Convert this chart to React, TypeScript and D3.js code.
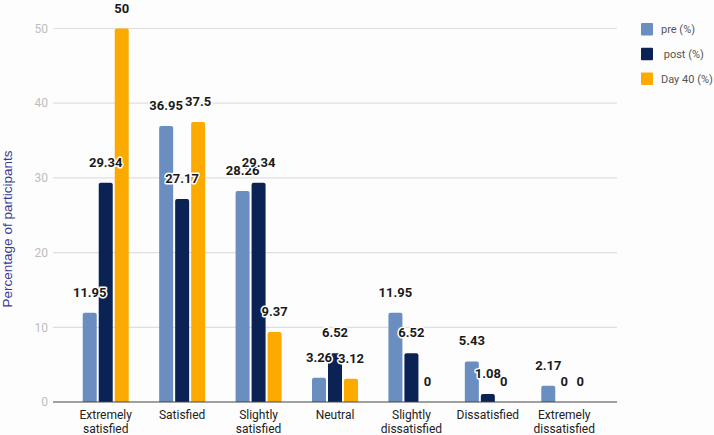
import React from "react";
import * as d3 from "d3";

const categories = [
  ["Extremely", "satisfied"],
  ["Satisfied"],
  ["Slightly", "satisfied"],
  ["Neutral"],
  ["Slightly", "dissatisfied"],
  ["Dissatisfied"],
  ["Extremely", "dissatisfied"],
];
const seriesNames = ["pre (%)", " post (%)", "Day 40 (%)"];
const preValues = [11.95, 36.95, 28.26, 3.26, 11.95, 5.43, 2.17];
const postValues = [29.34, 27.17, 29.34, 6.52, 6.52, 1.08, 0];
const day40Values = [50, 37.5, 9.37, 3.12, 0, 0, 0];
const yTicks = [0, 10, 20, 30, 40, 50];
const colors = ["#6a8ec0", "#0b2254", "#fdaa00"];

const W = 714;
const H = 435;

function topRoundedRect(x: number, y: number, w: number, h: number, r: number) {
  if (h <= 0) return "";
  const rr = Math.min(r, h, w / 2);
  return `M${x},${y + h}V${y + rr}Q${x},${y} ${x + rr},${y}H${x + w - rr}Q${x + w},${y} ${x + w},${y + rr}V${y + h}Z`;
}

export default function App() {
  const series = [preValues, postValues, day40Values];
  const catKeys = categories.map((c) => c.join(" "));
  const x = d3.scaleBand<string>().domain(catKeys).range([53, 617]).paddingInner(0).paddingOuter(0.19);
  const xs = d3
    .scaleBand<string>()
    .domain(["0", "1", "2"])
    .range([-24, 24])
    .paddingInner(0.125)
    .paddingOuter(0.0625);
  const y = d3.scaleLinear().domain([0, 50]).range([402, 28.5]);
  const font = "Roboto, 'Noto Sans', sans-serif";

  const labels: React.ReactNode[] = [];
  const bars: React.ReactNode[] = [];
  catKeys.forEach((ck, ci) => {
    const cx = (x(ck) as number) + x.bandwidth() / 2;
    series.forEach((vals, si) => {
      const v = vals[ci];
      const bx = cx + (xs(String(si)) as number);
      const bw = xs.bandwidth();
      const top = y(v);
      bars.push(
        <path key={`b${ci}-${si}`} d={topRoundedRect(bx, top, bw, y(0) - top, 2)} fill={colors[si]} />
      );
      labels.push(
        <text
          key={`l${ci}-${si}`}
          x={bx + bw / 2}
          y={top - 16}
          textAnchor="middle"
          fontFamily={font}
          fontWeight={700}
          fontSize={13}
          fill="#1a1a1a"
          stroke="#ffffff"
          strokeWidth={3}
          strokeLinejoin="round"
          style={{ paintOrder: "stroke" }}
        >
          {String(v)}
        </text>
      );
    });
  });

  return (
    <svg width={W} height={H} style={{ position: "absolute", left: 0, top: 0, background: "#fdfdfd" }}>
      <rect x={0} y={0} width={W} height={H} fill="#fdfdfd" />
      {yTicks.map((t) =>
        t === 0 ? null : (
          <line key={`g${t}`} x1={53} x2={617} y1={y(t)} y2={y(t)} stroke="#e2dede" strokeWidth={1.2} />
        )
      )}
      {yTicks.map((t) => (
        <text
          key={`t${t}`}
          x={48}
          y={y(t)}
          dy="0.35em"
          textAnchor="end"
          fontFamily={font}
          fontSize={12}
          fill="#bdbdbd"
        >
          {t}
        </text>
      ))}
      {bars}
      <line x1={53} x2={617} y1={y(0)} y2={y(0)} stroke="#444" strokeWidth={1.2} />
      {labels}
      {categories.map((lines, ci) => {
        const cx = (x(catKeys[ci]) as number) + x.bandwidth() / 2;
        return (
          <text key={`c${ci}`} textAnchor="middle" fontFamily={font} fontSize={12} fill="#222">
            {lines.map((ln, li) => (
              <tspan key={li} x={cx} y={419 + li * 14}>
                {ln}
              </tspan>
            ))}
          </text>
        );
      })}
      <text
        transform={`translate(11.5,229) rotate(-90)`}
        textAnchor="middle"
        fontFamily="'Liberation Sans', Arial, sans-serif"
        fontSize={13.5}
        fill="#3a3a96"
      >
        Percentage of participants
      </text>
      {seriesNames.map((name, si) => (
        <g key={`lg${si}`}>
          <rect x={641} y={23 + si * 24.7} width={12} height={12.5} rx={1} fill={colors[si]} />
          <text
            x={661}
            y={29.5 + si * 24.7}
            dy="0.35em"
            fontFamily={font}
            fontSize={11}
            fill="#555"
            style={{ whiteSpace: "pre" }}
          >
            {name}
          </text>
        </g>
      ))}
    </svg>
  );
}
